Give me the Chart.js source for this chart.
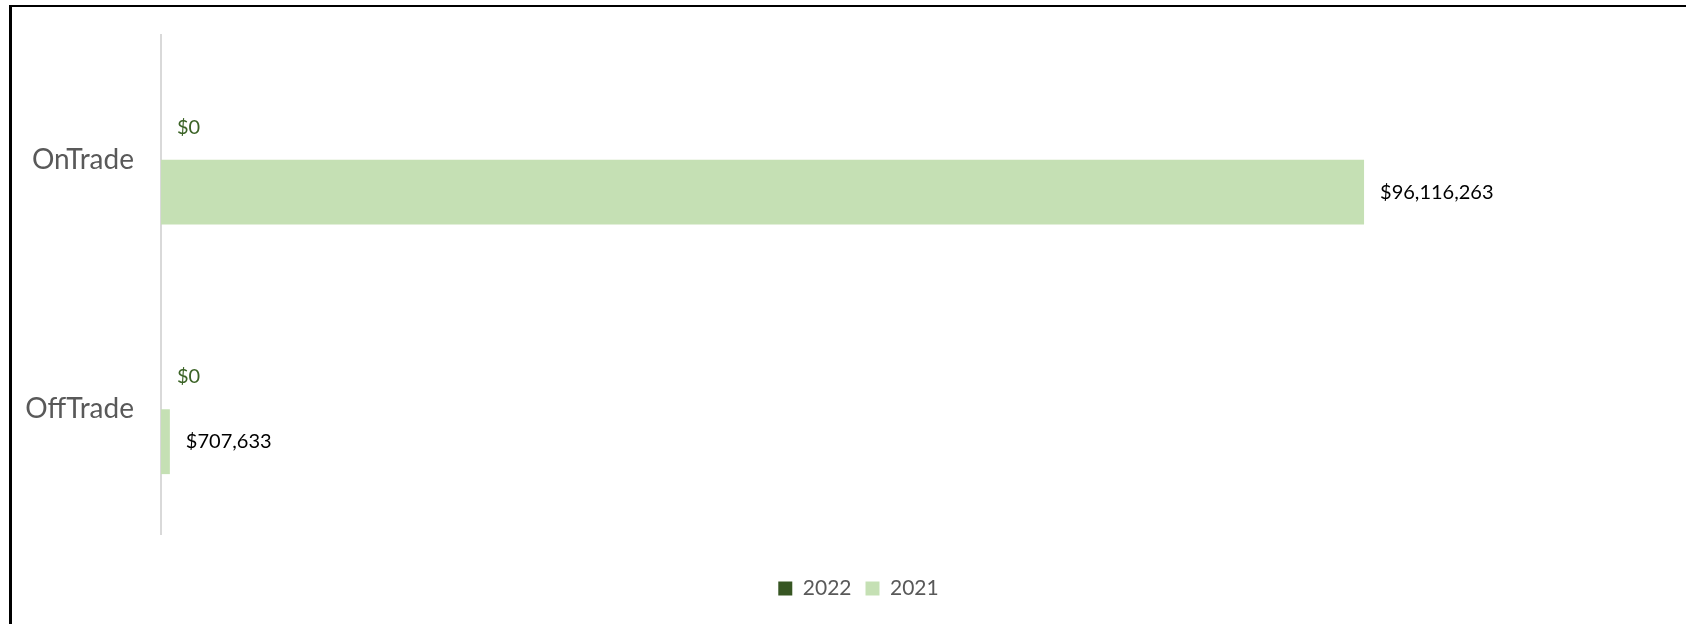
<!DOCTYPE html>
<html>
<head>
<meta charset="utf-8">
<script src="https://cdn.jsdelivr.net/npm/chart.js@4/dist/chart.umd.min.js"></script>
<style>
  html, body { margin: 0; padding: 0; background: #fff; overflow: hidden; }
  #wrap { position: absolute; left: 0; top: 0; width: 1686px; height: 624px; }
  #frame { position: absolute; left: 9px; top: 5px; width: 1700px; height: 640px;
           border-left: 3px solid #000; border-top: 2px solid #000; }
</style>
</head>
<body>
<div id="wrap"><canvas id="tradeChart" width="1686" height="624"></canvas></div>
<div id="frame"></div>
<script>
// ── Channel sales by year ──
const categories = ['OnTrade', 'OffTrade'];
const years = ['2022', '2021'];
const sales2022 = [0, 0];
const sales2021 = [96116263, 707633];

const FONT = 'Lato, "Open Sans", sans-serif';

function formatUSD(n) {
  return '$' + Math.round(n).toLocaleString('en-US');
}

// bar-end value labels, Excel style
const valueLabels = {
  id: 'valueLabels',
  afterDatasetsDraw(chart) {
    const ctx = chart.ctx;
    ctx.save();
    ctx.font = '20px ' + FONT;
    ctx.textAlign = 'left';
    ctx.textBaseline = 'middle';
    chart.data.datasets.forEach((ds, i) => {
      const meta = chart.getDatasetMeta(i);
      ctx.fillStyle = ds.labelColor;
      meta.data.forEach((el, j) => {
        ctx.fillText(formatUSD(ds.data[j]), el.x + 16, el.y);
      });
    });
    ctx.restore();
  }
};

// Excel centres the legend under the whole frame, a bit right of canvas centre
const legendShift = {
  id: 'legendShift',
  afterLayout(chart) {
    chart.legend.left += 27;
    chart.legend.right += 27;
  }
};

new Chart(document.getElementById('tradeChart').getContext('2d'), {
  type: 'bar',
  data: {
    labels: categories,
    datasets: [
      { label: years[0], data: sales2022, backgroundColor: '#375623', labelColor: '#3B6326' },
      { label: years[1], data: sales2021, backgroundColor: '#C5E0B4', labelColor: '#000000' }
    ]
  },
  options: {
    indexAxis: 'y',
    responsive: false,
    animation: false,
    categoryPercentage: 0.52,
    barPercentage: 1.0,
    layout: { padding: { top: 35, right: 23, bottom: 15, left: 0 } },
    plugins: {
      legend: {
        position: 'bottom',
        labels: { boxWidth: 14, boxHeight: 14, padding: 14, color: '#595959', font: { family: FONT, size: 21 } }
      },
      tooltip: { enabled: false }
    },
    scales: {
      x: {
        min: 0, max: 120000000,
        grid: { display: false },
        border: { display: false },
        ticks: { display: false },
        afterFit: s => { s.height = 30; }
      },
      y: {
        grid: { display: false, drawTicks: false },
        border: { display: true, color: '#D9D9D9', width: 2 },
        ticks: { color: '#595959', padding: 27, font: { family: FONT, size: 28 } },
        afterFit: s => { s.width = 161; s.paddingTop = 0; s.paddingBottom = 0; }
      }
    }
  },
  plugins: [valueLabels, legendShift]
});
</script>
</body>
</html>
